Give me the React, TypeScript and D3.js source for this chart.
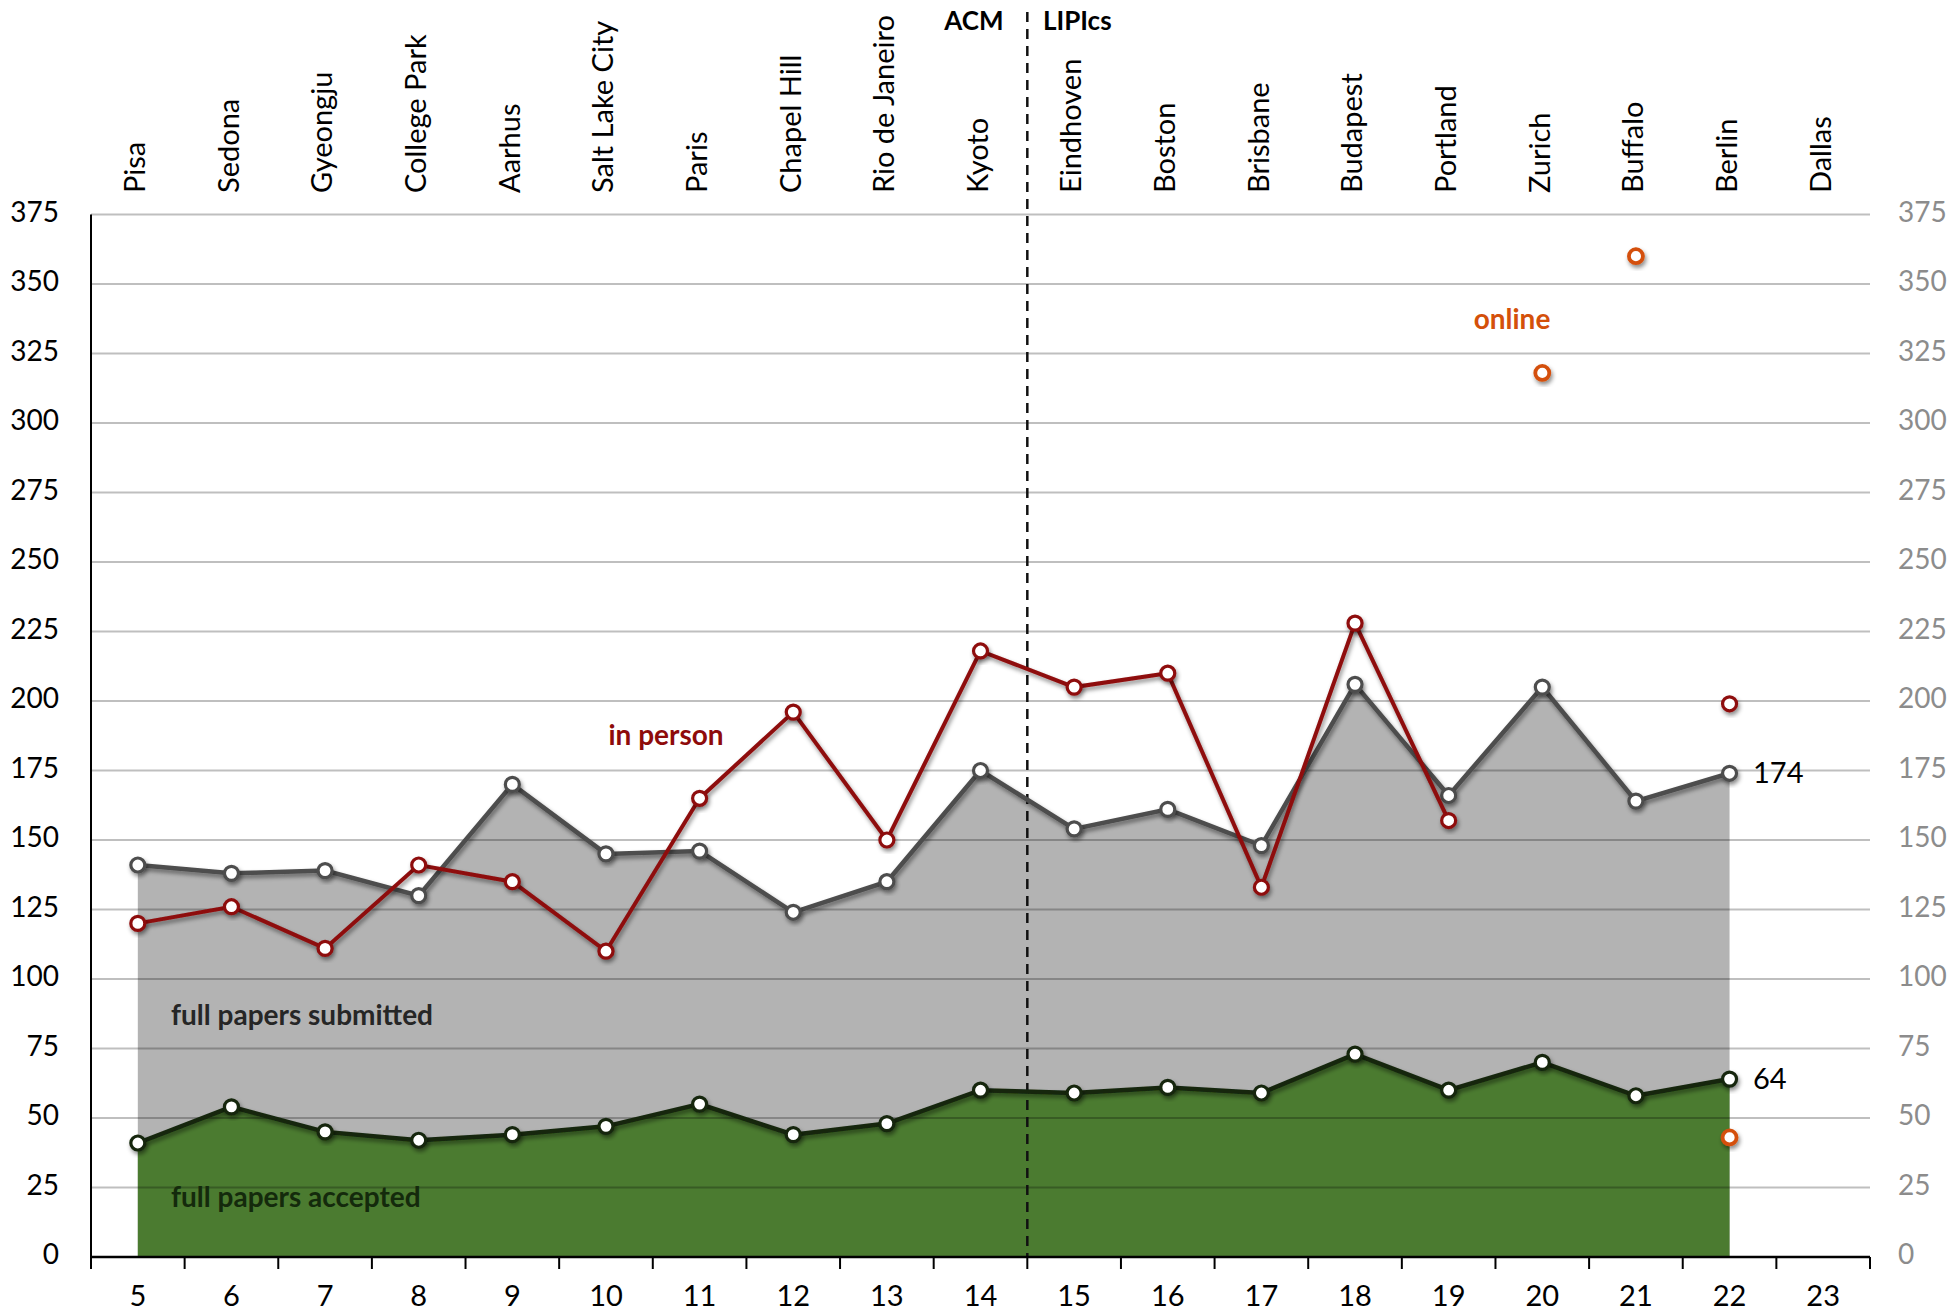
import React from "react";
import * as d3 from "d3";

const editions = [5, 6, 7, 8, 9, 10, 11, 12, 13, 14, 15, 16, 17, 18, 19, 20, 21, 22, 23];
const cities = ["Pisa", "Sedona", "Gyeongju", "College Park", "Aarhus", "Salt Lake City", "Paris", "Chapel Hill", "Rio de Janeiro", "Kyoto", "Eindhoven", "Boston", "Brisbane", "Budapest", "Portland", "Zurich", "Buffalo", "Berlin", "Dallas"];
const submitted: (number | null)[] = [141, 138, 139, 130, 170, 145, 146, 124, 135, 175, 154, 161, 148, 206, 166, 205, 164, 174, null];
const accepted: (number | null)[] = [41, 54, 45, 42, 44, 47, 55, 44, 48, 60, 59, 61, 59, 73, 60, 70, 58, 64, null];
const inPerson: (number | null)[] = [120, 126, 111, 141, 135, 110, 165, 196, 150, 218, 205, 210, 133, 228, 157, null, null, 199, null];
const online: (number | null)[] = [null, null, null, null, null, null, null, null, null, null, null, null, null, null, null, 318, 360, 43, null];
const yTicks = [0, 25, 50, 75, 100, 125, 150, 175, 200, 225, 250, 275, 300, 325, 350, 375];

const W = 1955, H = 1314;
const L = 91, R = 1870, T = 214.5, B = 1257;
const FONT = "Lato, 'Open Sans', sans-serif";

export default function App() {
  const xb = d3.scaleBand<number>().domain(editions).range([L, R]).padding(0);
  const xc = (e: number) => (xb(e) as number) + xb.bandwidth() / 2;
  const y = d3.scaleLinear().domain([0, 375]).range([B, T]);

  type P = { e: number; v: number | null };
  const mk = (arr: (number | null)[]): P[] => editions.map((e, i) => ({ e, v: arr[i] }));
  const sub = mk(submitted), acc = mk(accepted), inp = mk(inPerson), onl = mk(online);

  const area = d3.area<P>().defined(d => d.v != null).x(d => xc(d.e)).y0(y(0)).y1(d => y(d.v as number));
  const line = d3.line<P>().defined(d => d.v != null).x(d => xc(d.e)).y(d => y(d.v as number));

  const divX = xb(15) as number;
  const boundaries = editions.map(e => xb(e) as number).concat([R]);

  const markers = (data: P[], stroke: string, r = 7, sw = 3.2) =>
    data.filter(d => d.v != null).map((d, i) => (
      <circle key={i} cx={xc(d.e)} cy={y(d.v as number)} r={r} fill="#fff" stroke={stroke} strokeWidth={sw} filter="url(#sh)" />
    ));

  return (
    <svg width={W} height={H} style={{ display: "block", position: "absolute", left: 0, top: 0, background: "#fff" }} fontFamily={FONT}>
      <defs>
        <filter id="sh" x="-50%" y="-50%" width="200%" height="200%">
          <feDropShadow dx="1.5" dy="3" stdDeviation="2" floodColor="#000" floodOpacity="0.45" />
        </filter>
      </defs>
      <rect x={0} y={0} width={W} height={H} fill="#fff" />
      <path d={area(sub) || ""} fill="#b3b3b3" />
      <path d={area(acc) || ""} fill="#4b7b30" />
      {yTicks.filter(t => t > 0).map(t => (
        <line key={t} x1={L} x2={R} y1={y(t)} y2={y(t)} stroke="#000" strokeOpacity={0.25} strokeWidth={2} />
      ))}
      <line x1={divX} x2={divX} y1={12} y2={B} stroke="#111" strokeWidth={2.5} strokeDasharray="10 7" />
      <text x={974} y={23} textAnchor="middle" dominantBaseline="middle" fontSize={26} fontWeight="bold" fill="#000">ACM</text>
      <text x={1043} y={23} textAnchor="start" dominantBaseline="middle" fontSize={26} fontWeight="bold" fill="#000">LIPIcs</text>
      <line x1={L} x2={L} y1={T} y2={B} stroke="#000" strokeWidth={2} />
      <line x1={L} x2={R} y1={B} y2={B} stroke="#000" strokeWidth={2.5} />
      {boundaries.map((bx, i) => (
        <line key={i} x1={bx} x2={bx} y1={B} y2={B + 12} stroke="#000" strokeWidth={2} />
      ))}
      {yTicks.map(t => (
        <g key={t}>
          <text x={59} y={y(t)} textAnchor="end" dominantBaseline="middle" fontSize={28} fill="#000">{t}</text>
          <text x={1898} y={y(t)} textAnchor="start" dominantBaseline="middle" fontSize={28} fill="#8c8c8c">{t}</text>
        </g>
      ))}
      {editions.map(e => (
        <text key={e} x={xc(e)} y={1299} textAnchor="middle" dominantBaseline="middle" fontSize={29} fill="#000">{e}</text>
      ))}
      {editions.map((e, i) => (
        <text key={e} transform={`translate(${xc(e)},193) rotate(-90)`} textAnchor="start" dominantBaseline="middle" fontSize={29} fill="#000">
          {cities[i]}
        </text>
      ))}
      <path d={line(sub) || ""} fill="none" stroke="#4d4d4d" strokeWidth={4.5} filter="url(#sh)" />
      {markers(sub, "#4d4d4d")}
      <path d={line(acc) || ""} fill="none" stroke="#14260c" strokeWidth={4.5} filter="url(#sh)" />
      {markers(acc, "#14260c")}
      <path d={line(inp) || ""} fill="none" stroke="#8e0b0b" strokeWidth={4} filter="url(#sh)" />
      {markers(inp, "#8e0b0b")}
      {markers(onl, "#d4500a", 7, 3.8)}
      <text x={171} y={1018} dominantBaseline="middle" fontSize={28} fontWeight="bold" fill="#262626">full papers submitted</text>
      <text x={171} y={1200} dominantBaseline="middle" fontSize={28} fontWeight="bold" fill="#142a0c">full papers accepted</text>
      <text x={666} y={738} textAnchor="middle" dominantBaseline="middle" fontSize={28} fontWeight="bold" fill="#8e0b0b">in person</text>
      <text x={1512} y={322} textAnchor="middle" dominantBaseline="middle" fontSize={28} fontWeight="bold" fill="#d4500a">online</text>
      <text x={1753} y={776} dominantBaseline="middle" fontSize={29} fill="#000">{submitted[17]}</text>
      <text x={1753} y={1082} dominantBaseline="middle" fontSize={29} fill="#000">{accepted[17]}</text>
    </svg>
  );
}
